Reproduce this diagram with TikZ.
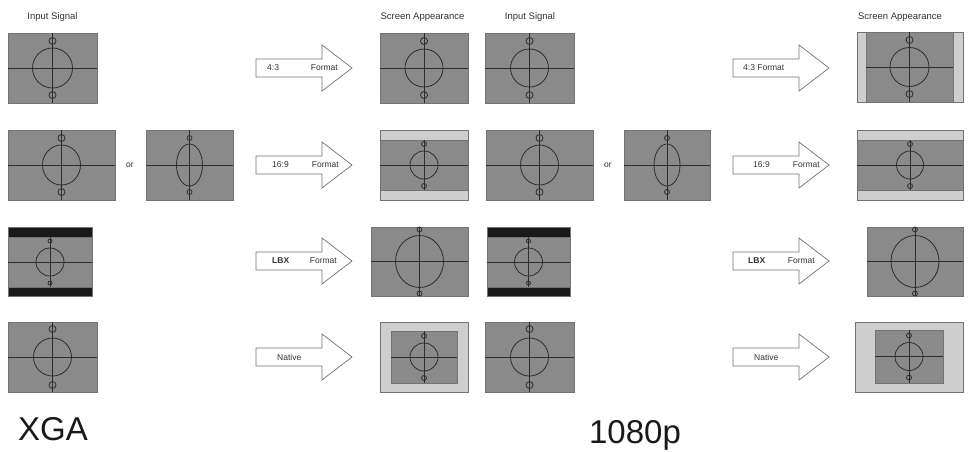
\documentclass[tikz,border=0pt]{standalone}
\usepackage{fontspec}
\setmainfont{Liberation Sans}
\usetikzlibrary{calc}
\definecolor{scrgray}{RGB}{138,138,138}
\definecolor{bargray}{RGB}{206,206,206}
\definecolor{inkgray}{RGB}{45,45,45}

\begin{document}
\begin{tikzpicture}[x=1pt,y=-1pt,
  screen/.style={draw=black!55,fill=scrgray,inner sep=0pt,outer sep=0pt},
  bars/.style={screen,fill=bargray},
  blackbars/.style={screen,fill=black!90},
  testline/.style={draw=inkgray,line width=0.8pt},
  fmtarrow/.style={draw=black!55,fill=white,line width=0.7pt},
  small/.style={font=\fontsize{8.5}{10}\selectfont,text=black!80,inner sep=0pt},
  head/.style={font=\fontsize{9.5}{11}\selectfont,text=black!80,inner sep=0pt},
  big/.style={font=\fontsize{33}{36}\selectfont,text=black!90,inner sep=0pt}]
\useasboundingbox (0,0) rectangle (968,451);

% headings
\node[head] (xsig) at (52.5,17) {Input Signal};
\node[head] (xapp) at (422.5,17) {Screen Appearance};
\node[head] (psig) at (530,17) {Input Signal};
\node[head] (papp) at (900,17) {Screen Appearance};

% XGA screens
\node[screen,minimum width=89pt,minimum height=70pt] (xin1) at (52.5,68) {};
\node[screen,minimum width=88pt,minimum height=70pt] (xout1) at (424,68) {};
\node[screen,minimum width=107pt,minimum height=70pt] (xin2) at (61.5,165) {};
\node[screen,minimum width=87pt,minimum height=70pt] (xin2b) at (189.5,165) {};
\node[bars,minimum width=88pt,minimum height=70pt] (xout2) at (424,165) {};
\node[screen,minimum width=88pt,minimum height=50pt] (xout2i) at (424,165) {};
\node[blackbars,minimum width=84pt,minimum height=69pt] (xin3) at (50,261.5) {};
\node[screen,minimum width=84pt,minimum height=50pt] (xin3i) at (50,262) {};
\node[screen,minimum width=97pt,minimum height=69pt] (xout3) at (419.5,261.5) {};
\node[screen,minimum width=89pt,minimum height=70pt] (xin4) at (52.5,357) {};
\node[bars,minimum width=88pt,minimum height=70pt] (xout4) at (424,357) {};
\node[screen,minimum width=66pt,minimum height=52pt] (xout4i) at (424,357) {};

% 1080p screens
\node[screen,minimum width=89pt,minimum height=70pt] (pin1) at (529.5,68) {};
\node[bars,minimum width=106pt,minimum height=70pt] (pout1) at (910,67) {};
\node[screen,minimum width=87pt,minimum height=70pt] (pout1i) at (909.5,67) {};
\node[screen,minimum width=107pt,minimum height=70pt] (pin2) at (539.5,165) {};
\node[screen,minimum width=86pt,minimum height=70pt] (pin2b) at (667,165) {};
\node[bars,minimum width=106pt,minimum height=70pt] (pout2) at (910,165) {};
\node[screen,minimum width=106pt,minimum height=50pt] (pout2i) at (910,165) {};
\node[blackbars,minimum width=83pt,minimum height=69pt] (pin3) at (528.5,261.5) {};
\node[screen,minimum width=83pt,minimum height=50pt] (pin3i) at (528.5,262) {};
\node[screen,minimum width=96pt,minimum height=69pt] (pout3) at (915,261.5) {};
\node[screen,minimum width=89pt,minimum height=70pt] (pin4) at (529.5,357) {};
\node[bars,minimum width=108pt,minimum height=70pt] (pout4) at (909,357) {};
\node[screen,minimum width=68pt,minimum height=53pt] (pout4i) at (909,356.5) {};

% test pattern on every screen
\foreach \scr/\rx/\ry/\dy/\sr in {xin1/20/20/27/3.5, xout1/19/19/27/3.5,
    xin2/19/20/27/3.5, xin2b/13/21/27/2.5, xout2i/14/14/21/2.5,
    xin3i/14/14/21/2, xout3/24/26/32/2.5, xin4/19/19/28/3.5,
    xout4i/14/14/21/2.5, pin1/19/19/27/3.5, pout1i/19.5/19.5/27/3.5,
    pin2/19/20/27/3.5, pin2b/13/21/27/2.5, pout2i/13.5/14/21/2.5,
    pin3i/14/14/21/2, pout3/24/26/32/2.5, pin4/19/19/28/3.5,
    pout4i/14/14/21/2.5}
{
  \draw[testline] (\scr.west) -- (\scr.east) (\scr.north) -- (\scr.south);
  \draw[testline] (\scr.center) ellipse[x radius=\rx, y radius=\ry];
  \draw[testline] ($(\scr.center)+(0,-\dy)$) circle[radius=\sr]
    ($(\scr.center)+(0,\dy)$) circle[radius=\sr];
}

\node[small] (xor) at (130,165) {or};
\node[small] (por) at (608,165) {or};

% block arrows
\foreach \a/\x/\y in {xa1/256/68, xa2/256/165, xa3/256/261, xa4/256/357,
    pa1/733/68, pa2/733/165, pa3/733/261, pa4/733/357}
{
  \coordinate (\a) at (\x,\y);
  \draw[fmtarrow,shift={(\a)}] (0,-9) -- (66,-9) -- (66,-23) -- (96,0)
    -- (66,23) -- (66,9) -- (0,9) -- cycle;
}

\node[small,anchor=west] (xt1) at ($(xa1)+(11,0)$) {4:3};
\node[small,anchor=east] (xf1) at ($(xa1)+(82,0)$) {Format};
\node[small,anchor=west] (xt2) at ($(xa2)+(16,0)$) {16:9};
\node[small,anchor=east] (xf2) at ($(xa2)+(83,0)$) {Format};
\node[small,anchor=west,font=\bfseries\fontsize{8.5}{10}\selectfont] (xt3) at ($(xa3)+(16,0)$) {LBX};
\node[small,anchor=east] (xf3) at ($(xa3)+(81,0)$) {Format};
\node[small,anchor=west] (xt4) at ($(xa4)+(21,0)$) {Native};

\node[small,anchor=west] (pt1) at ($(pa1)+(10,0)$) {4:3 Format};
\node[small,anchor=west] (pt2) at ($(pa2)+(20,0)$) {16:9};
\node[small,anchor=east] (pf2) at ($(pa2)+(87,0)$) {Format};
\node[small,anchor=west,font=\bfseries\fontsize{8.5}{10}\selectfont] (pt3) at ($(pa3)+(15,0)$) {LBX};
\node[small,anchor=east] (pf3) at ($(pa3)+(82,0)$) {Format};
\node[small,anchor=west] (pt4) at ($(pa4)+(21,0)$) {Native};

% resolution labels
\node[big,anchor=base] (xga) at (53,440) {XGA};
\node[big,anchor=base] (fhd) at (635,443) {1080p};
\end{tikzpicture}
\end{document}
